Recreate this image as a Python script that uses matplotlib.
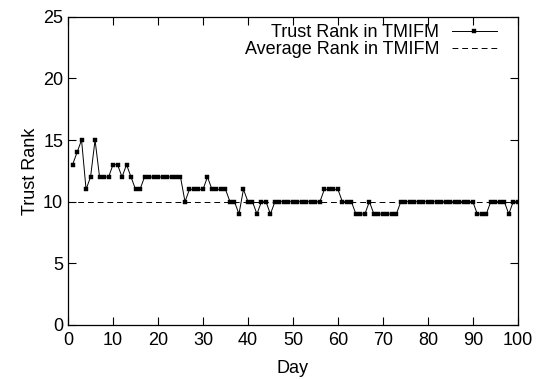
import matplotlib
matplotlib.use("Agg")
import matplotlib.pyplot as plt

plt.rcParams['font.family'] = ['Liberation Sans', 'DejaVu Sans']

days = list(range(1, 101))
trust_rank = ([13, 14, 15, 11, 12, 15] + [12] * 3 + [13] * 2 + [12, 13, 12] + [11] * 2
              + [12] * 9 + [10] + [11] * 4 + [12] + [11] * 4 + [10] * 2 + [9] + [11]
              + [10] * 2 + [9] + [10] * 2 + [9] + [10] * 11 + [11] * 4 + [10] * 3
              + [9] * 3 + [10] + [9] * 6 + [10] * 17 + [9] * 3 + [10] * 4 + [9] + [10] * 2)
avg_x = [0, 100]
avg_rank = [10, 10]

x_ticks = list(range(0, 101, 10))
y_ticks = list(range(0, 26, 5))

FS = 13

fig = plt.figure(figsize=(5.36, 3.79), dpi=100)
ax = fig.add_axes([0.127, 0.1425, 0.839, 0.8135])

ax.plot(days, trust_rank, color='black', lw=0.7, marker='s', ms=2.8, mew=0.3,
        label='Trust Rank in TMIFM')
ax.plot(avg_x, avg_rank, color='black', lw=0.7, linestyle=(0, (6, 4)),
        label='Average Rank in TMIFM')

ax.set_xlim(0, 100)
ax.set_ylim(0, 25)
ax.set_xticks(x_ticks)
ax.set_yticks(y_ticks)
ax.tick_params(axis='x', pad=5)
ax.tick_params(direction='in', top=True, right=True, length=5.5, width=0.8,
               labelsize=FS)
for s in ax.spines.values():
    s.set_linewidth(0.9)

ax.set_xlabel('Day', fontsize=FS, labelpad=8)
ax.set_ylabel('Trust Rank', fontsize=FS, labelpad=3)

leg = ax.legend(loc='upper right', frameon=False, markerfirst=False,
                fontsize=FS, handlelength=2.5, handletextpad=0.7,
                labelspacing=0.0, borderaxespad=0.0,
                bbox_to_anchor=(0.97, 1.0))

fig.savefig('out.png', dpi=100)
